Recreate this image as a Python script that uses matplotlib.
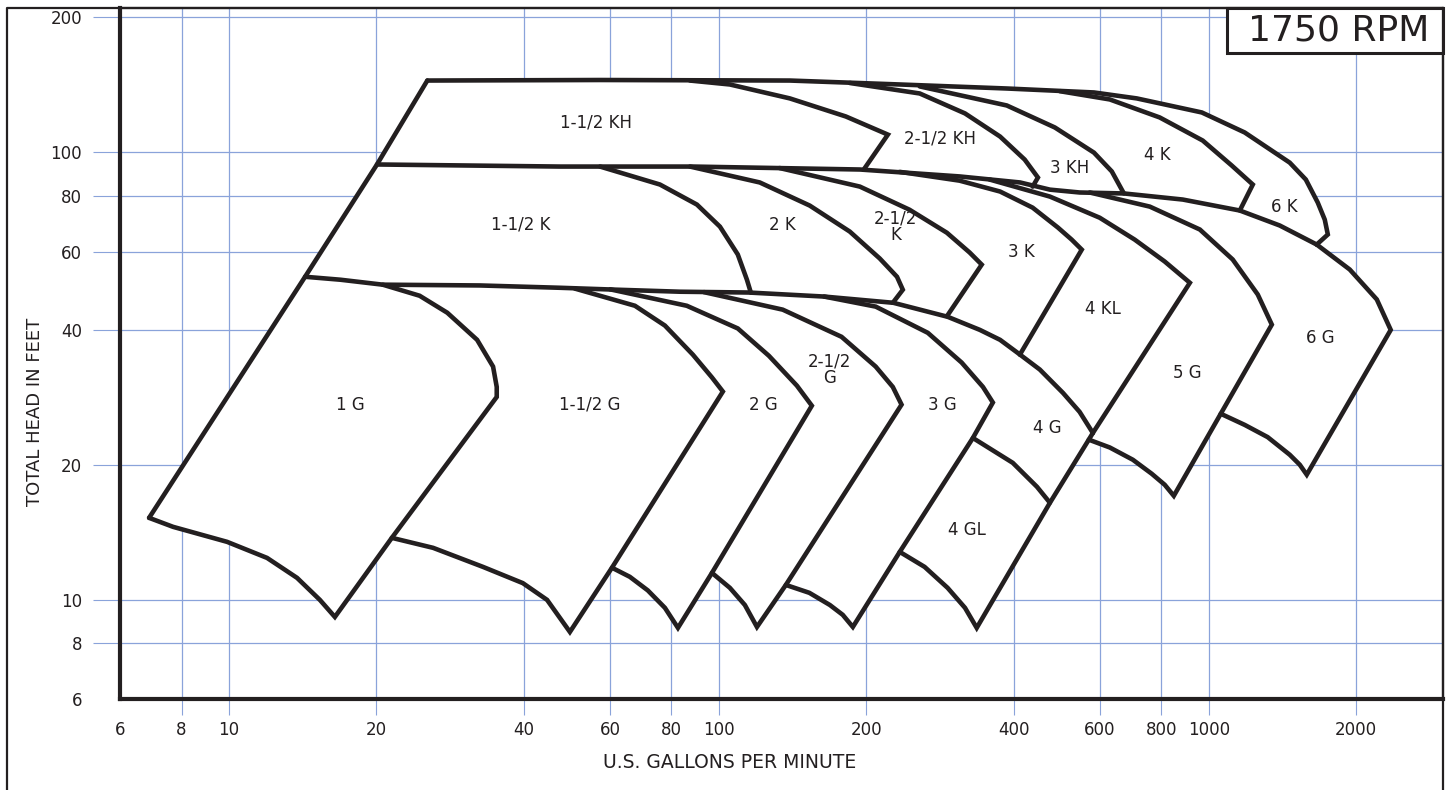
import matplotlib
matplotlib.use("Agg")
import matplotlib.pyplot as plt
from matplotlib.patches import Rectangle
from matplotlib.lines import Line2D
from matplotlib.ticker import NullLocator

# pump selection chart, 1750 rpm  -- points are (gpm, feet)
x_ticks = [6, 8, 10, 20, 40, 60, 80, 100, 200, 400, 600, 800, 1000, 2000]
y_ticks = [6, 8, 10, 20, 40, 60, 80, 100, 200]

left_edge = [(6.87, 15.25), (14.3, 52.7), (20.05, 93.9), (25.4, 144.6)]

# upper envelopes of the three tiers
kh_top = [(25.4, 144.6), (57.2, 145.0), (139.6, 144.6), (234, 141.7), (387, 138.8),
          (583, 136.0), (713, 131.9), (968, 122.7), (1184, 110.7), (1463, 94.8),
          (1578, 86.9), (1669, 77.2), (1725, 70.7), (1750, 65.5)]
k_top = [(20.05, 93.9), (47.4, 92.9), (88.5, 92.9), (194, 91.5), (310, 88.3),
         (412, 85.6), (474, 82.5), (545, 81.3), (671, 80.9), (885, 78.4),
         (1157, 74.1), (1396, 68.6), (1661, 62.2)]
g_top = [(14.3, 52.7), (16.9, 51.9), (20.6, 50.6), (32.5, 50.4), (47.4, 49.8),
         (62.2, 49.3), (83.3, 48.8), (115, 48.6), (164, 47.6), (227, 46.1),
         (293, 42.9), (341, 40.1), (375, 38.1), (412, 35.3), (452, 32.7),
         (504, 29.0), (545, 26.3), (580, 23.6)]

# KH tier right hand boundaries
kh15_edge = [(87.3, 144.6), (105.3, 141.7), (139.6, 131.9), (181.6, 120.2),
             (221.3, 109.5), (197.6, 91.5)]
kh25_edge = [(185, 142.8), (257, 135.3), (318, 122.1), (375, 108.4), (421, 96.3),
             (448, 87.8), (437, 83.8)]
kh3_edge = [(257, 140.3), (387, 127.2), (485, 113.6), (583, 99.8), (634, 90.6),
            (671, 80.9)]
k4_edge = [(496.5, 136.9), (628, 131.2), (794, 119.6), (972, 106.2), (1114, 93.4),
           (1230, 84.7), (1157, 74.1)]

# K tier
k15_edge = [(57.2, 92.9), (75.8, 84.7), (90.2, 76.4), (100.5, 68.2), (109.3, 59.1),
            (114.1, 51.9), (116.2, 48.6)]
k2_edge = [(87.3, 92.9), (121.2, 85.6), (153.3, 76.0), (185, 66.5), (213, 57.9),
           (231, 52.7), (237.4, 49.3), (226.5, 46.1)]
k25_edge = [(133, 92.2), (194, 83.8), (245, 74.4), (292, 66.1), (325, 59.7),
            (344, 56.1), (292, 43.0)]
k3_edge = [(234, 90.4), (310, 86.4), (375, 81.7), (437, 75.2), (492, 67.9),
           (525, 63.8), (550.5, 60.6), (411.5, 35.3)]
kl4_edge = [(357, 86.9), (474, 79.6), (599, 71.4), (706, 63.8), (813, 57.0),
            (915, 51.1), (580, 23.6)]
g5_edge = [(571.5, 81.3), (758, 75.6), (959, 67.2), (1119, 57.6), (1259, 48.1),
           (1345, 41.2), (1058, 26.05), (848.5, 17.08), (813, 18.08), (765, 19.13),
           (700, 20.56), (628, 21.9), (569, 22.8)]
g6_edge = [(1661, 62.2), (1940, 54.7), (2203, 46.9), (2352, 40.1), (1585, 19.04),
           (1534, 20.04), (1463, 21.1), (1319, 23.1), (1184, 24.6), (1058, 26.05)]

# G tier
g1_edge = [(20.6, 50.6), (24.5, 47.8), (27.9, 43.8), (32.1, 38.1), (34.6, 33.2),
           (35.2, 29.9), (35.2, 28.4), (21.5, 13.76), (16.45, 9.16), (15.33, 10.0),
           (13.77, 11.2), (11.96, 12.41), (9.91, 13.48), (7.69, 14.56), (6.87, 15.25)]
g15_edge = [(50.8, 49.6), (67.4, 45.4), (77.6, 41.0), (88.5, 35.3), (96.8, 31.4),
            (101.9, 29.2), (60.5, 11.8), (49.65, 8.48), (44.6, 10.0), (39.8, 10.9),
            (33.0, 11.85), (26.1, 13.07), (21.5, 13.76)]
g2_edge = [(60, 49.4), (86, 45.4), (109.3, 40.4), (126.5, 35.1), (144.3, 30.1),
           (154.8, 27.15), (96.8, 11.49), (82.5, 8.66), (77.6, 9.60), (71.6, 10.5),
           (65.8, 11.26), (60.5, 11.8)]
g25_edge = [(93.2, 48.7), (135, 44.5), (178, 38.7), (209, 33.2), (226.5, 29.9),
            (236, 27.3), (137, 10.8), (119.6, 8.70), (113, 9.74), (105.3, 10.64),
            (96.8, 11.49)]
g3_edge = [(164, 47.6), (209, 45.2), (267, 39.5), (313, 33.9), (346, 29.9),
           (362.5, 27.6), (330, 23.0), (234, 12.8), (187.7, 8.70), (179, 9.26),
           (168.5, 9.74), (153, 10.37), (137, 10.8)]
g4_edge = [(580, 23.6), (569, 22.8), (474, 16.48), (336, 8.66), (318, 9.60),
           (293, 10.64), (263, 11.85), (234, 12.8)]
gl4_top = [(330, 23.0), (398, 20.24), (446, 17.89), (474, 16.48)]

labels = ["1-1/2 KH", "2-1/2 KH", "3 KH", "4 K", "6 K",
          "1-1/2 K", "2 K", "2-1/2\nK", "3 K", "4 KL", "5 G", "6 G",
          "1 G", "1-1/2 G", "2 G", "2-1/2\nG", "3 G", "4 G", "4 GL"]
label_x = [56.1, 282.5, 520, 787, 1429,
           39.4, 134.5, 229.7, 415, 608, 902, 1692,
           17.66, 54.5, 123, 168.5, 286.5, 469, 321]
label_y = [116.5, 107.3, 92.4, 98.8, 75.6,
           68.9, 68.9, 68.2, 60.0, 44.7, 32.2, 38.5,
           27.3, 27.3, 27.3, 32.7, 27.3, 24.2, 14.34]

ink = '#231f20'
grid_blue = '#8aa3da'


def tail(edge, pt):
    return edge[edge.index(pt) + 1:]


fig = plt.figure(figsize=(14.46, 7.90), dpi=100)
W, H = 1446.0, 790.0
ax = fig.add_axes([120.3 / W, 1 - 699.2 / H, 1322.2 / W, 691.2 / H])
ax.set_xscale('log')
ax.set_yscale('log')
ax.set_xlim(6, 3000)
ax.set_ylim(6, 210)

ax.set_xticks(x_ticks)
ax.set_xticklabels([str(v) for v in x_ticks])
ax.set_yticks(y_ticks)
ax.set_yticklabels([str(v) for v in y_ticks])
ax.xaxis.set_minor_locator(NullLocator())
ax.yaxis.set_minor_locator(NullLocator())
ax.tick_params(axis='x', length=11.5, width=0.8, color=grid_blue, pad=4,
               labelsize=12, labelcolor=ink)
ax.tick_params(axis='y', length=19.5, width=0.8, color=grid_blue, pad=8,
               labelsize=12, labelcolor=ink)
ax.xaxis.get_major_ticks()[0].tick1line.set_visible(False)
ax.yaxis.get_major_ticks()[0].tick1line.set_visible(False)
ax.set_axisbelow(True)
ax.grid(True, color=grid_blue, lw=0.9)

for s in ['left', 'bottom']:
    ax.spines[s].set_linewidth(3)
    ax.spines[s].set_color(ink)
for s in ['top', 'right']:
    ax.spines[s].set_linewidth(1.6)
    ax.spines[s].set_color(ink)

# white body of the whole chart so the grid doesn't show through
outline = (left_edge + kh_top[1:] + g6_edge + tail(g5_edge, g6_edge[-1])
           + tail(g4_edge, g5_edge[-1]) + tail(g3_edge, g4_edge[-1])
           + tail(g25_edge, g3_edge[-1]) + tail(g2_edge, g25_edge[-1])
           + tail(g15_edge, g2_edge[-1]) + tail(g1_edge, g15_edge[-1]))
ax.fill([p[0] for p in outline], [p[1] for p in outline], color='white', lw=0, zorder=2)

curves = [left_edge, kh_top + [g6_edge[0]], k_top, g_top,
          kh15_edge, kh25_edge, kh3_edge, k4_edge,
          k15_edge, k2_edge, k25_edge, k3_edge, kl4_edge, g5_edge, g6_edge,
          g1_edge, g15_edge, g2_edge, g25_edge, g3_edge, g4_edge, gl4_top]
for c in curves:
    ax.plot([p[0] for p in c], [p[1] for p in c], color=ink, lw=3.3,
            solid_joinstyle='miter', solid_capstyle='round', zorder=3)

for t, x, y in zip(labels, label_x, label_y):
    ax.text(x, y, t, ha='center', va='center', fontsize=12, color=ink,
            linespacing=0.85, zorder=4)

fig.text(730 / W, 1 - 762 / H, 'U.S. GALLONS PER MINUTE', ha='center', va='center',
         fontsize=13.5, color=ink)
fig.text(35 / W, 1 - 412 / H, 'TOTAL HEAD IN FEET', ha='center', va='center',
         rotation=90, fontsize=13, color=ink)

# outer frame (bottom runs off the sheet)
fig.add_artist(Line2D([7 / W, 7 / W, 1443 / W, 1443 / W],
                      [-0.02, 1 - 8 / H, 1 - 8 / H, -0.02],
                      color=ink, lw=1.6, transform=fig.transFigure))

# rpm box in the corner
fig.add_artist(Rectangle((1227 / W, 1 - 53 / H), (1443 - 1227) / W, 45 / H,
                         transform=fig.transFigure, facecolor='white',
                         edgecolor=ink, lw=2.2))
fig.text(1339 / W, 1 - 30.5 / H, '1750 RPM', ha='center', va='center',
         fontsize=26, color=ink)

fig.savefig('out.png', dpi=100)
